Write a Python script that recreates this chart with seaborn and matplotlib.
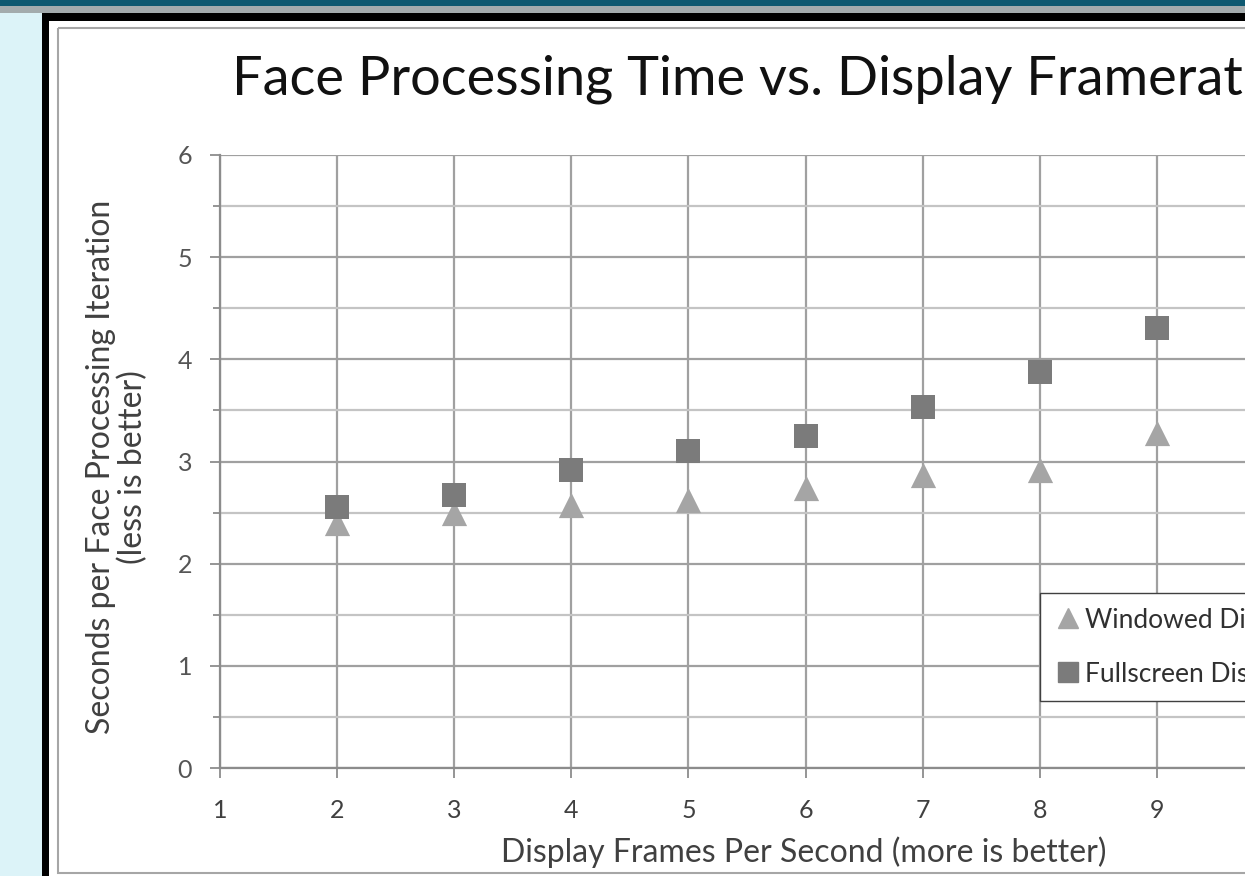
import matplotlib
matplotlib.use("Agg")
import matplotlib.pyplot as plt
from matplotlib.patches import Rectangle
from matplotlib.lines import Line2D
import seaborn as sns
import pandas as pd
import numpy as np

# ---- data ----
fps = [2, 3, 4, 5, 6, 7, 8, 9]
windowed = [2.40, 2.50, 2.57, 2.62, 2.74, 2.87, 2.92, 3.28]
fullscreen = [2.55, 2.67, 2.92, 3.10, 3.25, 3.53, 3.88, 4.31]
series_names = ["Windowed Display", "Fullscreen Display"]
title = "Face Processing Time vs. Display Framerate"
xlabel = "Display Frames Per Second (more is better)"
ylabel = "Seconds per Face Processing Iteration\n(less is better)"
xticks = [1, 2, 3, 4, 5, 6, 7, 8, 9]
yticks = [0, 1, 2, 3, 4, 5, 6]

sns.set_theme(style="white")
plt.rcParams["font.family"] = ["Lato", "DejaVu Sans"]

W, H = 1245, 876
fig = plt.figure(figsize=(W / 100, H / 100), dpi=100)

# ---- screenshot background ----
bg = fig.add_axes([0, 0, 1, 1], zorder=0)
bg.set_xlim(0, W)
bg.set_ylim(H, 0)
bg.axis("off")
bg.add_patch(Rectangle((0, 0), W, H, color="#dcf3f8", lw=0))
bg.add_patch(Rectangle((0, 0), W, 6, color="#0d5870", lw=0))
bg.add_patch(Rectangle((0, 6), W, 7, color="#a3abad", lw=0))
bg.add_patch(Rectangle((42, 13), W, H, color="#000000", lw=0))
bg.add_patch(Rectangle((49, 21), W, H, color="#ffffff", lw=0))
bg.add_patch(Rectangle((58, 28), W + 20, 845, facecolor="none",
                       edgecolor="#a6a6a6", lw=1.5))

# ---- plot area ----
px_left, px_right, px_top, px_bot = 220, 1274, 155, 768
ax = fig.add_axes([px_left / W, 1 - px_bot / H,
                   (px_right - px_left) / W, (px_bot - px_top) / H], zorder=1)
ax.set_facecolor("none")

df = pd.DataFrame({
    "fps": fps * 2,
    "sec": windowed + fullscreen,
    "series": [series_names[0]] * len(fps) + [series_names[1]] * len(fps),
})

sns.scatterplot(data=df[df.series == series_names[0]], x="fps", y="sec",
                marker="^", color="#a5a5a5", s=330, linewidth=0, ax=ax,
                zorder=4, legend=False, clip_on=False)
sns.scatterplot(data=df[df.series == series_names[1]], x="fps", y="sec",
                marker="s", color="#7b7b7b", s=310, linewidth=0, ax=ax,
                zorder=5, legend=False, clip_on=False)

ax.set_xlim(1, 10)
ax.set_ylim(0, 6)
ax.set_xticks(xticks)
ax.set_yticks(yticks)
ax.set_yticks(np.arange(0.5, 6, 1.0), minor=True)

gc = "#a0a0a0"
ax.grid(True, which="major", axis="both", color=gc, lw=1.6, zorder=1)
ax.grid(True, which="minor", axis="y", color="#c4c4c4", lw=1.6, zorder=1)
ax.set_axisbelow(True)

for s in ["top", "right"]:
    ax.spines[s].set_visible(False)
for s in ["left", "bottom"]:
    ax.spines[s].set_color("#8c8c8c")
    ax.spines[s].set_linewidth(1.6)

ax.tick_params(axis="both", which="major", direction="out", length=7,
               width=1.3, color="#8c8c8c", left=True, bottom=True)
ax.tick_params(axis="y", which="minor", direction="out", length=5,
               width=1.3, color="#8c8c8c", left=True)
ax.tick_params(axis="y", labelsize=18, pad=13, labelcolor="#555555")
ax.tick_params(axis="x", labelsize=18, pad=15, labelcolor="#404040")
ax.set_xlabel("")
ax.set_ylabel("")

# ---- texts ----
fig.text(232 / W, 1 - 95 / H, title, fontsize=39, color="#111111",
         ha="left", va="baseline")
fig.text(804 / W, 1 - 862 / H, xlabel, fontsize=23, color="#404040",
         ha="center", va="baseline")
fig.text(117 / W, 1 - 467 / H, ylabel, fontsize=23, color="#404040",
         ha="center", va="center", rotation=90, multialignment="center",
         linespacing=1.1)

# ---- legend ----
handles = [
    Line2D([], [], marker="^", color="#a5a5a5", linestyle="none", markersize=15),
    Line2D([], [], marker="s", color="#7b7b7b", linestyle="none", markersize=14),
]
leg = ax.legend(handles, series_names, loc="upper left",
                bbox_to_anchor=(1040 / W, 1 - 593 / H),
                bbox_transform=fig.transFigure, frameon=True, fancybox=False,
                fontsize=19, labelspacing=1.1, handletextpad=0.15,
                handlelength=1.0, borderpad=0.55, borderaxespad=0)
leg.get_frame().set_edgecolor("#404040")
leg.get_frame().set_linewidth(1.0)
leg.get_frame().set_facecolor("white")
leg.get_frame().set_alpha(1.0)
for t in leg.get_texts():
    t.set_color("#303030")

fig.savefig("out.png", dpi=100)
